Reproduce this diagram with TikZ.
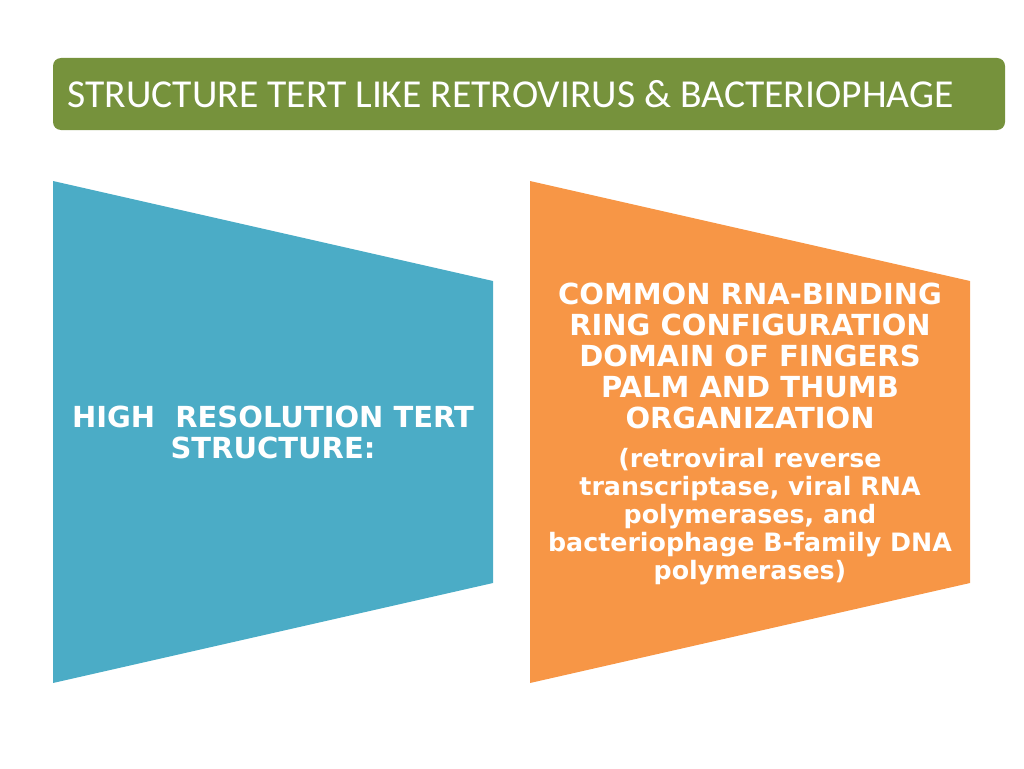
\documentclass[tikz,border=0pt]{standalone}
\usepackage{fontspec}
\setmainfont{DejaVu Sans}
\newfontfamily\titlefont{Carlito}
\definecolor{olive}{HTML}{76923C}
\definecolor{cblue}{HTML}{4BACC6}
\definecolor{corange}{HTML}{F79646}
\begin{document}
\begin{tikzpicture}[x=1pt,y=-1pt,
  big/.style={font=\bfseries\fontsize{29}{31}\selectfont,text=white,align=center},
  small/.style={font=\bfseries\fontsize{25.3}{28}\selectfont,text=white,align=center}]
\useasboundingbox (0,0) rectangle (1024,768);
\fill[olive,rounded corners=8pt] (53,58) rectangle (1005,130);
\node[anchor=west,text=white,font=\titlefont\fontsize{39.6}{42}\selectfont] (title) at (64,94) {STRUCTURE TERT LIKE RETROVIRUS \& BACTERIOPHAGE};
\fill[cblue] (53,181) -- (493,281) -- (493,583) -- (53,683) -- cycle;
\fill[corange] (530,181) -- (970,281) -- (970,583) -- (530,683) -- cycle;
\node[big] (left) at (273,432) {HIGH\ \ RESOLUTION TERT\\STRUCTURE:};
\node[big] (r1) at (750,356) {COMMON RNA-BINDING\\RING CONFIGURATION\\DOMAIN OF FINGERS\\PALM AND THUMB\\ORGANIZATION};
\node[small] (r2) at (750,517) {(retroviral reverse\\transcriptase, viral RNA\\polymerases, and\\bacteriophage B-family DNA\\polymerases)};
\end{tikzpicture}
\end{document}
